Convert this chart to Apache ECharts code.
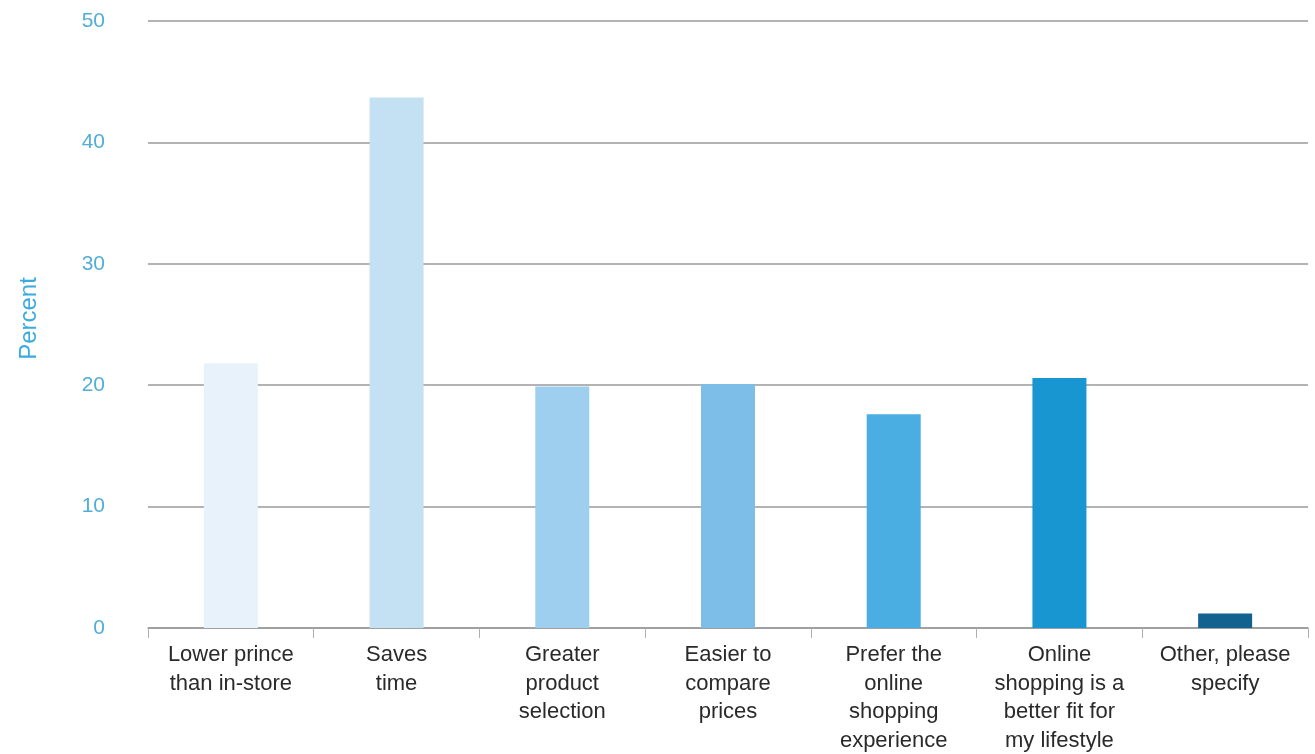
<!DOCTYPE html>
<html>
<head>
<meta charset="utf-8">
<script src="https://cdn.jsdelivr.net/npm/echarts@6/dist/echarts.min.js"></script>
<style>
html,body{margin:0;padding:0;background:#fff;}
#chart{width:1315px;height:754px;}
</style>
</head>
<body>
<div id="chart"></div>
<script>
const categories = [
  "Lower prince\nthan in-store",
  "Saves\ntime",
  "Greater\nproduct\nselection",
  "Easier to\ncompare\nprices",
  "Prefer the\nonline\nshopping\nexperience",
  "Online\nshopping is a\nbetter fit for\nmy lifestyle",
  "Other, please\nspecify"
];
const values = [21.8, 43.7, 19.9, 20.1, 17.6, 20.6, 1.2];
const barColors = ["#e8f2fb", "#c4e0f3", "#9ecfee", "#7cbee7", "#4aaee3", "#1796d1", "#13618f"];
const yTicks = [0, 10, 20, 30, 40, 50];

const chart = echarts.init(document.getElementById('chart'));
chart.setOption({
  animation: false,
  backgroundColor: '#fff',
  grid: { left: 148, right: 7, top: 21, bottom: 126, containLabel: false, outerBoundsMode: 'none' },
  xAxis: {
    type: 'category',
    data: categories,
    axisLine: { lineStyle: { color: '#9a9a9a', width: 1.5 } },
    axisTick: { show: true, length: 10, lineStyle: { color: '#b0b0b0' } },
    axisLabel: {
      interval: 0,
      color: '#2a2a2a',
      fontFamily: 'Liberation Sans, Arial, sans-serif',
      fontSize: 22,
      lineHeight: 28.5,
      margin: 13
    }
  },
  yAxis: {
    type: 'value',
    min: yTicks[0],
    max: yTicks[yTicks.length - 1],
    interval: 10,
    name: 'Percent',
    nameLocation: 'middle',
    nameRotate: 90,
    nameGap: 107,
    nameTextStyle: { color: '#3aaadf', fontSize: 24, fontFamily: 'Liberation Sans, Arial, sans-serif', padding: [0, 0, 0, 12] },
    axisLine: { show: false },
    axisTick: { show: false },
    axisLabel: {
      color: '#52aed6',
      fontSize: 21,
      fontFamily: 'Liberation Sans, Arial, sans-serif',
      margin: 43
    },
    splitLine: { lineStyle: { color: '#9a9a9a', width: 1.5 } }
  },
  series: [{
    type: 'bar',
    barWidth: 54,
    data: values.map((v, i) => ({ value: v, itemStyle: { color: barColors[i] } }))
  }]
});
</script>
</body>
</html>
